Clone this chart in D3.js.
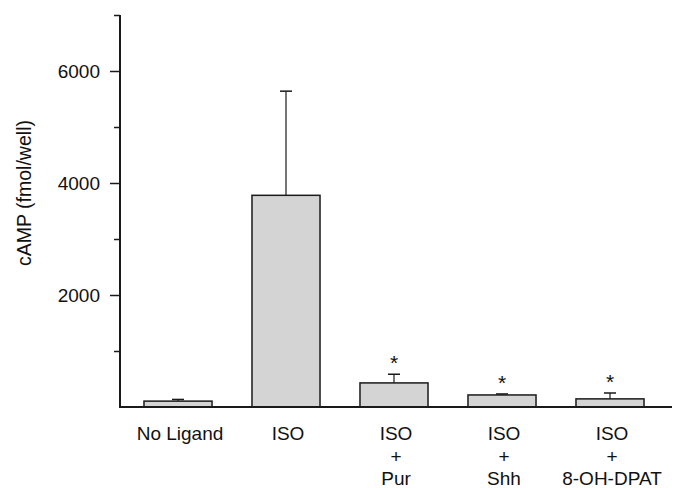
<!DOCTYPE html>
<html>
<head>
<meta charset="utf-8">
<script src="https://cdn.jsdelivr.net/npm/d3@7"></script>
<style>
  body { margin: 0; background: #fff; }
  text { font-family: "Liberation Sans", Arial, sans-serif; fill: #111; }
</style>
</head>
<body>
<div id="chart-area"></div>
<script>
// DATA
let groups = ["No Ligand", "ISO", "ISO+Pur", "ISO+Shh", "ISO+8-OH-DPAT"];
let labelLines = [["No Ligand"], ["ISO"], ["ISO", "+", "Pur"], ["ISO", "+", "Shh"], ["ISO", "+", "8-OH-DPAT"]];
let means = [105, 3780, 430, 215, 145];
let errors = [30, 1860, 155, 18, 105];
let significant = [false, false, true, true, true];
let majorTicks = [2000, 4000, 6000];
let minorTicks = [1000, 3000, 5000, 7000];

// CHART AREA
let width = 675, height = 488;
let svg = d3.select("#chart-area").append("svg")
  .attr("width", width).attr("height", height);

let x = d3.scaleBand().domain(groups).range([124, 664]).paddingInner(0.37).paddingOuter(0.185);
let y = d3.scaleLinear().domain([0, 7000]).range([407, 15]);

// BARS
svg.selectAll(".bar").data(groups).enter().append("rect")
  .attr("class", "bar")
  .attr("x", d => x(d))
  .attr("y", (d, i) => y(means[i]))
  .attr("width", x.bandwidth())
  .attr("height", (d, i) => y(0) - y(means[i]))
  .attr("fill", "#d4d4d4")
  .attr("stroke", "#1a1a1a")
  .attr("stroke-width", 1.5);

// ERROR BARS (upper only)
groups.forEach(function(g, i) {
  let cx = x(g) + x.bandwidth() / 2;
  let top = y(means[i] + errors[i]);
  svg.append("line")
    .attr("x1", cx).attr("x2", cx)
    .attr("y1", y(means[i])).attr("y2", top)
    .attr("stroke", "#1a1a1a").attr("stroke-width", 1.2);
  svg.append("line")
    .attr("x1", cx - 6).attr("x2", cx + 6)
    .attr("y1", top).attr("y2", top)
    .attr("stroke", "#1a1a1a").attr("stroke-width", 1.5);
  if (significant[i]) {
    svg.append("text")
      .attr("x", cx).attr("y", top - 4)
      .attr("text-anchor", "middle")
      .style("font-size", "21px")
      .text("*");
  }
});

// AXIS
let yAxis = d3.axisLeft(y).tickValues(majorTicks).tickSize(10).tickPadding(10).tickFormat(d3.format("d"));
let yAxisMinor = d3.axisLeft(y).tickValues(minorTicks).tickSize(6).tickFormat("");

let yg = svg.append("g").attr("transform", "translate(120,0)").call(yAxis);
svg.append("g").attr("transform", "translate(120,0)").call(yAxisMinor)
  .select(".domain").remove();
yg.select(".domain").attr("d", "M0," + y(7000) + "V" + y(0));
svg.selectAll(".tick line").attr("stroke", "#1a1a1a").attr("stroke-width", 1.5);
yg.select(".domain").attr("stroke", "#1a1a1a").attr("stroke-width", 2);
yg.attr("font-family", null);
yg.selectAll(".tick text").style("font-size", "19px").attr("fill", "#111");

// x baseline
svg.append("line")
  .attr("x1", 119).attr("x2", 672)
  .attr("y1", y(0)).attr("y2", y(0))
  .attr("stroke", "#1a1a1a").attr("stroke-width", 2);

// x labels
groups.forEach(function(g, i) {
  let cx = x(g) + x.bandwidth() / 2 + 2;
  labelLines[i].forEach(function(t, j) {
    svg.append("text")
      .attr("x", cx).attr("y", 440 + j * 22.5)
      .attr("text-anchor", "middle")
      .style("font-size", "19px")
      .text(t);
  });
});

// y title
svg.append("text")
  .attr("transform", "translate(31,193) rotate(-90)")
  .attr("text-anchor", "middle")
  .style("font-size", "19.5px")
  .text("cAMP (fmol/well)");
</script>
</body>
</html>
